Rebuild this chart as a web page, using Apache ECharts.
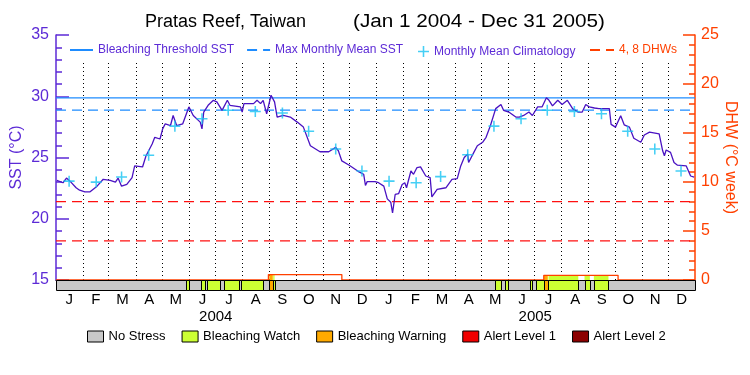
<!DOCTYPE html>
<html><head><meta charset="utf-8">
<script src="https://cdn.jsdelivr.net/npm/echarts@6/dist/echarts.min.js"></script>
<style>html,body{margin:0;padding:0;background:#fff}#c{width:750px;height:375px}</style>
</head><body><div id="c"></div>
<script>
const FONT = '"Liberation Sans", Arial, sans-serif';
// ---- data ----
const monthLabels = ['J','F','M','A','M','J','J','A','S','O','N','D','J','F','M','A','M','J','J','A','S','O','N','D'];
const yearLabels = ['2004','2005'];
// SST: day offset from 2004-01-01, value in °C
const sstDay = [1,8,12,16,23,27,33,39,47,54,62,68,71,75,81,87,90,99,103,106,110,113,119,122,125,131,134,138,145,152,157,165,167,169,174,180,184,190,196,199,211,213,215,226,230,234,237,241,246,250,253,260,268,276,283,291,302,312,320,323,327,335,346,352,354,356,365,
369,375,379,383,385,388,392,396,399,401,406,409,413,417,423,428,430,436,446,453,459,463,467,471,472,478,482,488,492,497,503,509,512,518,526,530,535,541,545,551,556,561,564,568,574,579,585,591,597,602,606,610,616,621,633,635,640,646,650,656,661,669,673,679,690,694,696,698,703,707,711,721,726,730];
const sstVal = [23.13,22.94,23.32,23.07,22.53,22.33,22.20,22.20,22.66,23.22,23.13,22.99,23.32,22.66,22.80,23.36,24.31,24.23,25.14,25.55,26.10,26.65,26.51,27.34,27.75,27.61,28.43,27.61,27.75,29.13,28.43,27.89,27.34,28.71,29.26,29.67,29.54,28.85,29.67,29.26,29.13,28.71,29.40,29.40,29.67,29.40,29.67,28.57,30.08,29.54,28.30,28.43,28.30,27.89,27.48,25.96,25.47,25.47,25.83,25.55,24.72,24.39,23.85,23.63,22.72,23.03,23.03,
22.94,22.66,21.62,21.34,20.47,21.98,22.06,22.80,22.94,22.53,23.90,23.63,24.18,24.23,23.49,23.36,21.79,22.39,22.53,23.22,23.27,24.31,25.00,25.28,24.59,25.42,25.96,26.24,26.65,27.61,28.99,29.32,28.85,28.71,28.30,28.30,28.43,28.71,28.43,29.13,29.13,29.87,29.67,29.21,29.67,29.32,29.67,28.99,28.71,28.71,29.32,29.13,29.04,28.99,28.99,27.70,27.48,28.40,27.67,27.48,26.57,26.24,26.84,27.07,26.93,25.55,25.14,25.61,25.42,24.59,24.37,24.31,23.49,23.40];
// Monthly mean climatology (one value per month, Jan 2004 .. Dec 2005)
const climVal = [23.07,22.99,23.40,25.19,27.56,28.16,28.85,28.76,28.63,27.15,25.69,23.90,
                 23.07,22.94,23.44,25.22,27.56,28.16,28.85,28.76,28.57,27.15,25.69,23.90];
const thresholdSST = [29.87];
const mmmSST = [28.87];
const dhwLevels = [4, 8];
// Degree heating weeks (step points)
const dhwDay = [0,243,243,327,327,558,558,643,643,731];
const dhwVal = [0,0,0.55,0.55,0,0,0.48,0.48,0,0];
// Stress status segments (day offsets), level 1 = watch, 2 = warning
const statusStart = [149,166,172.5,192.5,212,244,248.5,502,514,542,549.5,558.3,563.4,604.6,615.3];
const statusEnd   = [152.7,171,188,209,236.4,248,250,509,517,545,558.3,562.6,597.5,610.7,632];
const statusLevel = [1,1,1,1,1,2,1,1,1,1,1,2,1,1,1];
const statusNames = ['No Stress','Bleaching Watch','Bleaching Warning','Alert Level 1','Alert Level 2'];
const statusColors = ['#c8c8c8','#ccff33','#ffaa00','#f00000','#8c0000'];

// ---- helpers ----
const T0 = Date.UTC(2004,0,1);
const dayOf = (y,m,d) => (Date.UTC(y,m,d) - T0) / 864e5;
const totalDays = dayOf(2006,0,1);
const monthStarts = [];
for (let i = 1; i < 24; i++) monthStarts.push(dayOf(2004, i, 1));
const climDay = climVal.map((v,i) => dayOf(2004, i, 16));
function dhwAt(d){ let v = 0; for (let i=0;i<dhwDay.length;i++) if (dhwDay[i] <= d) v = dhwVal[i]; return v; }

const PURPLE = '#5c2ad6', LINE = '#4a12c2', BLUE = '#1e8cff', CYAN = '#16c3f3', ORANGE = '#ff4000', RED = '#ff1010';
const plusPath = 'path://M4.3,0 H5.7 V4.3 H10 V5.7 H5.7 V10 H4.3 V5.7 H0 V4.3 H4.3 Z';
const noSymbol = {color:'rgba(0,0,0,0)', borderColor:'rgba(0,0,0,0)', borderWidth:0, opacity:0};

const chart = echarts.init(document.getElementById('c'), null, {renderer:'canvas'});

function statusSeries(k){
  let data;
  if (k === 0) data = [[0, totalDays, 0]];
  else data = statusStart.map((s,i)=>[s, statusEnd[i], statusLevel[i]]).filter(r => r[2] === k);
  return {
    name: statusNames[k], type: 'custom', xAxisIndex: 1, yAxisIndex: 2, z: 10 + k,
    itemStyle: {color: statusColors[k]}, clip: false, silent: true,
    encode: {x: [0,1]},
    renderItem: function(params, api){
      const s = api.value(0), e = api.value(1);
      const p0 = api.coord([s, 1]), p1 = api.coord([e, 0]);
      const x0 = Math.round(p0[0]) + 0.5, x1 = Math.round(p1[0]) + 0.5;
      const y0 = Math.round(p0[1]) + 0.5, y1 = Math.round(p1[1]) + 0.5;
      return {type:'rect', shape:{x:x0, y:y0, width:x1-x0, height:y1-y0},
              style:{fill: statusColors[k], stroke:'#000', lineWidth:1}};
    },
    data: data
  };
}
function dhwLevelSeries(v){
  return {name:'4, 8 DHWs', type:'line', xAxisIndex:0, yAxisIndex:1, symbol:'none', z:2, silent:true,
    lineStyle:{color:RED, width:1.2, type:[10,6]}, itemStyle:{color:RED},
    data:[[0, v], [totalDays, v]]};
}

const option = {
  animation: false,
  textStyle: {fontFamily: FONT},
  graphic: [
    {type:'text', x:145, y:22, style:{text:'Pratas Reef, Taiwan', font:'18px ' + FONT, fill:'#000', verticalAlign:'middle'}},
    {type:'text', x:353, y:22, scaleX:1.15, style:{text:'(Jan 1 2004 - Dec 31 2005)', font:'18px ' + FONT, fill:'#000', verticalAlign:'middle'}}
  ],
  legend: [
    {left:69, top:44, padding:0, itemWidth:23, itemHeight:14, itemGap:12, selectedMode:false,
     data:[{name:'Bleaching Threshold SST', itemStyle:noSymbol}, {name:'Max Monthly Mean SST', itemStyle:noSymbol}],
     textStyle:{color:PURPLE, fontSize:12, fontFamily:FONT}},
    {left:418, top:45.5, padding:0, itemWidth:11, itemHeight:11, selectedMode:false,
     data:['Monthly Mean Climatology'], textStyle:{color:PURPLE, fontSize:12, fontFamily:FONT}},
    {left:589, top:44, padding:0, itemWidth:24, itemHeight:14, selectedMode:false,
     data:[{name:'4, 8 DHWs', itemStyle:noSymbol, lineStyle:{color:ORANGE}}], textStyle:{color:ORANGE, fontSize:12, fontFamily:FONT}},
    {left:87, top:330, padding:0, itemWidth:16, itemHeight:11, itemGap:16, icon:'rect', selectedMode:false,
     itemStyle:{borderColor:'#000', borderWidth:1},
     data: statusNames, textStyle:{color:'#000', fontSize:13, fontFamily:FONT}}
  ],
  grid: [
    {left:56, width:639, top:35, height:245, containLabel:false, outerBoundsMode:'none'},
    {left:56, width:639, top:280, height:10, containLabel:false, outerBoundsMode:'none'}
  ],
  xAxis: [
    {gridIndex:0, type:'value', min:0, max:totalDays, position:'top',
     axisLine:{show:true, lineStyle:{color:'#000', width:1}}, axisTick:{show:false}, axisLabel:{show:false}, splitLine:{show:false}},
    {gridIndex:1, type:'value', min:0, max:totalDays, show:false, splitLine:{show:false}},
    {gridIndex:1, type:'category', data:monthLabels, position:'bottom', boundaryGap:true,
     axisLine:{show:false}, axisTick:{show:false}, splitLine:{show:false},
     axisLabel:{interval:0, color:'#000', fontSize:15, margin:2, fontFamily:FONT}},
    {gridIndex:1, type:'category', data:yearLabels, position:'bottom', offset:17, boundaryGap:true,
     axisLine:{show:false}, axisTick:{show:false}, splitLine:{show:false},
     axisLabel:{interval:0, color:'#000', fontSize:15, margin:2, fontFamily:FONT}}
  ],
  yAxis: [
    {gridIndex:0, type:'value', min:15, max:35, interval:5, position:'left',
     axisLine:{show:true, lineStyle:{color:PURPLE, width:1.5}},
     axisTick:{show:true, inside:true, length:13, lineStyle:{color:PURPLE, width:1.5}},
     minorTick:{show:true, splitNumber:5, length:6, lineStyle:{color:PURPLE, width:1.5}},
     splitLine:{show:false}, minorSplitLine:{show:false},
     axisLabel:{color:PURPLE, fontSize:16, margin:7, fontFamily:FONT},
     name:'SST (°C)', nameLocation:'middle', nameRotate:90, nameGap:31, nameMoveOverlap:false,
     nameTextStyle:{color:PURPLE, fontSize:16, fontFamily:FONT}},
    {gridIndex:0, type:'value', min:0, max:25, interval:5, position:'right',
     axisLine:{show:true, lineStyle:{color:ORANGE, width:1.5}},
     axisTick:{show:true, inside:true, length:12, lineStyle:{color:ORANGE, width:1.5}},
     minorTick:{show:true, splitNumber:5, length:6, lineStyle:{color:ORANGE, width:1.5}},
     splitLine:{show:false}, minorSplitLine:{show:false},
     axisLabel:{color:ORANGE, fontSize:16, margin:6, fontFamily:FONT},
     name:'DHW (°C week)', nameLocation:'middle', nameRotate:-90, nameGap:27, nameMoveOverlap:false,
     nameTextStyle:{color:ORANGE, fontSize:16, fontFamily:FONT}},
    {gridIndex:1, type:'value', min:0, max:1, show:false, splitLine:{show:false}}
  ],
  series: [
    {name:'monthLines', type:'custom', xAxisIndex:0, yAxisIndex:0, z:1, silent:true, clip:false,
     renderItem:function(params, api){
       const x = Math.round(api.coord([api.value(0), 15])[0]) + 0.5;
       const top = params.coordSys.y + 28, bottom = params.coordSys.y + params.coordSys.height;
       return {type:'line', shape:{x1:x, y1:top, x2:x, y2:bottom}, style:{stroke:'#000', lineWidth:1, lineDash:[1,3]}};
     },
     data: monthStarts.map(d=>[d])},
    {name:'Bleaching Threshold SST', type:'line', xAxisIndex:0, yAxisIndex:0, symbol:'none', z:2, silent:true,
     lineStyle:{color:BLUE, width:1.2}, itemStyle:{color:BLUE},
     data:[[0, thresholdSST[0]], [totalDays, thresholdSST[0]]]},
    {name:'Max Monthly Mean SST', type:'line', xAxisIndex:0, yAxisIndex:0, symbol:'none', z:2, silent:true,
     lineStyle:{color:BLUE, width:1.2, type:[10,6]}, itemStyle:{color:BLUE},
     data:[[0, mmmSST[0]], [totalDays, mmmSST[0]]]},
    dhwLevelSeries(dhwLevels[0]),
    dhwLevelSeries(dhwLevels[1]),
    {name:'DHW fill', type:'custom', xAxisIndex:0, yAxisIndex:1, z:3, silent:true,
     renderItem:function(params, api){
       const s = api.value(0), e = api.value(1), lvl = api.value(2);
       const v = dhwAt((s+e)/2);
       if (v <= 0) return null;
       const p0 = api.coord([s, v]), p1 = api.coord([e, 0]);
       return {type:'rect', shape:{x:p0[0], y:p0[1], width:p1[0]-p0[0], height:p1[1]-p0[1]}, style:{fill:statusColors[lvl]}};
     },
     data: statusStart.map((s,i)=>[s, statusEnd[i], statusLevel[i]])},
    {name:'DHW', type:'line', xAxisIndex:0, yAxisIndex:1, symbol:'none', z:4, silent:true,
     lineStyle:{color:ORANGE, width:1.3}, itemStyle:{color:ORANGE},
     data: dhwDay.map((d,i)=>[d, dhwVal[i]])},
    {name:'SST', type:'line', xAxisIndex:0, yAxisIndex:0, symbol:'none', z:5, silent:true,
     lineStyle:{color:LINE, width:1.3}, itemStyle:{color:LINE},
     data: sstDay.map((d,i)=>[d, sstVal[i]])},
    {name:'Monthly Mean Climatology', type:'scatter', xAxisIndex:0, yAxisIndex:0, z:6, silent:true,
     symbol: plusPath, symbolSize:11, itemStyle:{color:CYAN},
     data: climDay.map((d,i)=>[d, climVal[i]])},
    statusSeries(0), statusSeries(1), statusSeries(2), statusSeries(3), statusSeries(4)
  ]
};
chart.setOption(option);
</script>
</body></html>
